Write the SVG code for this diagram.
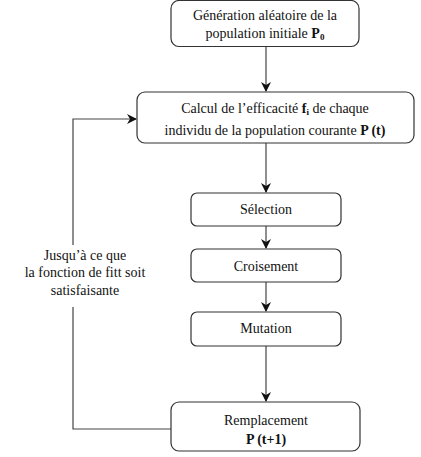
<svg xmlns="http://www.w3.org/2000/svg" width="421" height="457" viewBox="0 0 421 457">
<style>
.box{fill:#fff;stroke:#333;stroke-width:1.2}
.t{font-family:'Liberation Serif', 'Noto Serif', 'DejaVu Serif', serif;font-size:14px;fill:#111;text-anchor:middle}
.c{fill:none;stroke:#444;stroke-width:1.2}
</style>
<defs>
<marker id="ah" viewBox="0 0 10 10" refX="9" refY="5" markerWidth="10" markerHeight="10" markerUnits="userSpaceOnUse" orient="auto">
<path d="M0,0 L10,5 L0,10 L3,5 Z" fill="#111"/>
</marker>
</defs>
<rect width="421" height="457" fill="#fff"/>
<g id="connectors">
<line class="c" x1="266" y1="47" x2="266" y2="91" marker-end="url(#ah)"/>
<line class="c" x1="266" y1="143" x2="266" y2="192" marker-end="url(#ah)"/>
<line class="c" x1="266" y1="226" x2="266" y2="248" marker-end="url(#ah)"/>
<line class="c" x1="266" y1="282" x2="266" y2="311" marker-end="url(#ah)"/>
<line class="c" x1="266" y1="346" x2="266" y2="401" marker-end="url(#ah)"/>
<polyline class="c" points="171,429 73,429 73,119 136,119" marker-end="url(#ah)"/>
</g>
<g id="n1">
<rect class="box" x="171" y="0.5" width="188" height="46" rx="8"/>
<text class="t" x="265" y="20">Génération aléatoire de la</text>
<text class="t" x="265" y="38">population initiale <tspan font-weight="bold">P</tspan><tspan font-weight="bold" font-size="9" dy="2">0</tspan></text>
</g>
<g id="n2">
<rect class="box" x="137" y="92" width="277" height="51" rx="8"/>
<text class="t" x="275" y="113">Calcul de l’efficacité <tspan font-weight="bold">f</tspan><tspan font-weight="bold" font-size="9" dy="2">i</tspan><tspan dy="-2"> de chaque</tspan></text>
<text class="t" x="275" y="135">individu de la population courante <tspan font-weight="bold">P (t)</tspan></text>
</g>
<g id="n3">
<rect class="box" x="191" y="193" width="150" height="33" rx="6"/>
<text class="t" x="266" y="214">Sélection</text>
</g>
<g id="n4">
<rect class="box" x="191" y="249" width="150" height="33" rx="6"/>
<text class="t" x="266" y="271">Croisement</text>
</g>
<g id="n5">
<rect class="box" x="191" y="312" width="150" height="34" rx="6"/>
<text class="t" x="266" y="333">Mutation</text>
</g>
<g id="n6">
<rect class="box" x="171" y="402" width="189" height="49" rx="8"/>
<text class="t" x="266" y="425">Remplacement</text>
<text class="t" x="266" y="444" font-weight="bold">P (t+1)</text>
</g>
<g id="label">
<rect x="4" y="245" width="162" height="62" fill="#fff"/>
<text class="t" x="85" y="260">Jusqu’à ce que</text>
<text class="t" x="85" y="277">la fonction de fitt soit</text>
<text class="t" x="85" y="295">satisfaisante</text>
</g>
</svg>
